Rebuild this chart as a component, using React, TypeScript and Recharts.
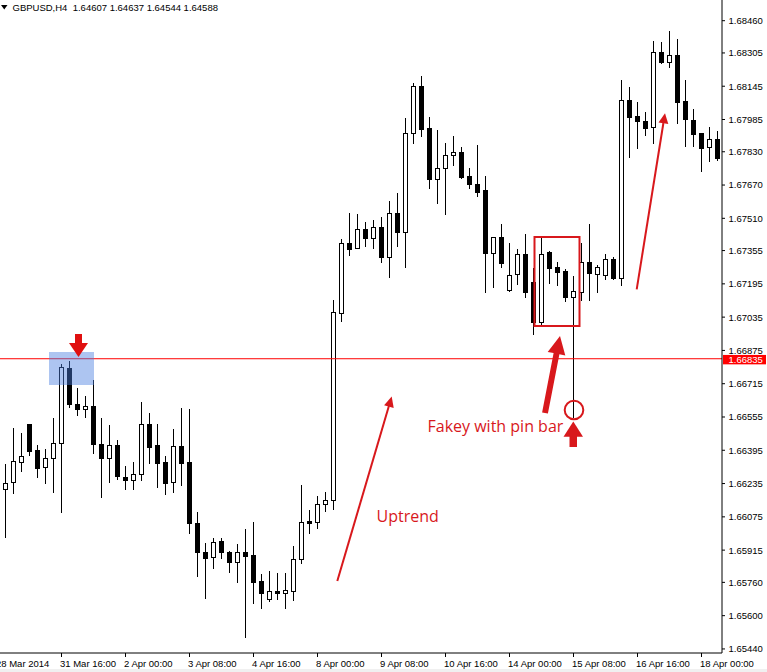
import React from "react";
import { ComposedChart, XAxis, YAxis, Bar, ReferenceLine } from "recharts";

// ---- data (GBPUSD H4) ----
const opens = [
  1.66207, 1.66241, 1.66337, 1.66521, 1.66396, 1.66313, 1.66357, 1.66429, 1.66789, 1.66616,
  1.66592, 1.66608, 1.66424, 1.66357, 1.66419, 1.66267, 1.66251, 1.66280, 1.66520, 1.66419,
  1.66337, 1.66244, 1.66416, 1.66337, 1.66044, 1.65908, 1.65881, 1.65958, 1.65908, 1.65857,
  1.65908, 1.65892, 1.65767, 1.65679, 1.65719, 1.65708, 1.65720, 1.65871, 1.66055, 1.66049,
  1.66135, 1.66156, 1.67054, 1.67391, 1.67366, 1.67457, 1.67414, 1.67467, 1.67326, 1.67534,
  1.67446, 1.67919, 1.68146, 1.67943, 1.67698, 1.67751, 1.67813, 1.67827, 1.67712, 1.67674,
  1.67646, 1.67342, 1.67419, 1.67166, 1.67241, 1.67339, 1.67205, 1.67013, 1.67347, 1.67275,
  1.67257, 1.67130, 1.67157, 1.67302, 1.67241, 1.67238, 1.67313, 1.67222, 1.68079, 1.68002,
  1.67978, 1.67951, 1.68308, 1.68263, 1.68295, 1.68074, 1.67983, 1.67919, 1.67851, 1.67891,
];
const highs = [
  1.66329, 1.66501, 1.66477, 1.66521, 1.66420, 1.66401, 1.66549, 1.66810, 1.66826, 1.66693,
  1.66656, 1.66733, 1.66549, 1.66517, 1.66444, 1.66319, 1.66337, 1.66629, 1.66576, 1.66521,
  1.66368, 1.66496, 1.66597, 1.66593, 1.66097, 1.65948, 1.65972, 1.65972, 1.65911, 1.65943,
  1.66015, 1.66049, 1.65799, 1.65813, 1.65805, 1.65805, 1.65935, 1.66228, 1.66108, 1.66177,
  1.66193, 1.67117, 1.67411, 1.67536, 1.67531, 1.67491, 1.67502, 1.67518, 1.67593, 1.67630,
  1.67991, 1.68159, 1.68194, 1.67996, 1.67935, 1.67871, 1.67906, 1.67854, 1.67751, 1.67862,
  1.67713, 1.67422, 1.67483, 1.67393, 1.67363, 1.67435, 1.67270, 1.67414, 1.67354, 1.67302,
  1.67265, 1.67233, 1.67390, 1.67483, 1.67286, 1.67337, 1.67326, 1.68175, 1.68140, 1.68071,
  1.68020, 1.68362, 1.68358, 1.68411, 1.68372, 1.68175, 1.68034, 1.67922, 1.67948, 1.67930,
];
const lows = [
  1.65978, 1.66188, 1.66297, 1.66372, 1.66265, 1.66239, 1.66196, 1.66100, 1.66602, 1.66565,
  1.66554, 1.66383, 1.66169, 1.66244, 1.66256, 1.66207, 1.66210, 1.66252, 1.66332, 1.66220,
  1.66185, 1.66193, 1.66228, 1.65996, 1.65792, 1.65684, 1.65831, 1.65876, 1.65809, 1.65763,
  1.65499, 1.65659, 1.65635, 1.65672, 1.65679, 1.65635, 1.65675, 1.65855, 1.65999, 1.66020,
  1.66105, 1.66111, 1.67018, 1.67335, 1.67366, 1.67378, 1.67369, 1.67302, 1.67229, 1.67378,
  1.67278, 1.67874, 1.67906, 1.67657, 1.67585, 1.67529, 1.67766, 1.67702, 1.67654, 1.67619,
  1.67157, 1.67181, 1.67275, 1.67162, 1.67194, 1.67133, 1.66953, 1.67002, 1.67201, 1.67190,
  1.67113, 1.66555, 1.67117, 1.67117, 1.67157, 1.67217, 1.67217, 1.67190, 1.67806, 1.67850,
  1.67911, 1.67874, 1.68255, 1.68239, 1.67970, 1.67858, 1.67858, 1.67739, 1.67787, 1.67790,
];
const closes = [
  1.66236, 1.66342, 1.66366, 1.66393, 1.66311, 1.66357, 1.66429, 1.66794, 1.66616, 1.66592,
  1.66606, 1.66424, 1.66357, 1.66419, 1.66273, 1.66251, 1.66280, 1.66520, 1.66412, 1.66335,
  1.66239, 1.66416, 1.66335, 1.66044, 1.65908, 1.65876, 1.65956, 1.65908, 1.65857, 1.65908,
  1.65888, 1.65763, 1.65708, 1.65719, 1.65708, 1.65723, 1.65872, 1.66049, 1.66047, 1.66135,
  1.66155, 1.67058, 1.67391, 1.67364, 1.67457, 1.67414, 1.67467, 1.67326, 1.67534, 1.67443,
  1.67919, 1.68146, 1.67941, 1.67698, 1.67751, 1.67813, 1.67827, 1.67707, 1.67674, 1.67638,
  1.67342, 1.67419, 1.67294, 1.67238, 1.67339, 1.67157, 1.67013, 1.67339, 1.67270, 1.67253,
  1.67130, 1.67161, 1.67302, 1.67246, 1.67275, 1.67313, 1.67222, 1.68079, 1.67999, 1.67979,
  1.67946, 1.68308, 1.68263, 1.68295, 1.68071, 1.67986, 1.67914, 1.67850, 1.67890, 1.67801,
];

const xTickIndex = [-1, 7, 15, 23, 31, 39, 47, 55, 63, 71, 79, 87];
const xTickLabels = [
  "28 Mar 2014", "31 Mar 16:00", "2 Apr 00:00", "3 Apr 08:00", "4 Apr 16:00", "8 Apr 00:00",
  "9 Apr 08:00", "10 Apr 16:00", "14 Apr 00:00", "15 Apr 08:00", "16 Apr 16:00", "18 Apr 00:00",
];
const yTicks = [
  1.6846, 1.68305, 1.68145, 1.67985, 1.6783, 1.6767, 1.6751, 1.67355, 1.67195, 1.67035,
  1.66875, 1.66715, 1.66555, 1.66395, 1.66235, 1.66075, 1.65915, 1.6576, 1.656, 1.6544,
];
const levelPrice = 1.66835;
const headerText = "GBPUSD,H4\u00a0 1.64607 1.64637 1.64544 1.64588";

const rows = opens.map((o, i) => ({
  i,
  o,
  h: highs[i],
  l: lows[i],
  c: closes[i],
  range: [lows[i], highs[i]],
}));

const AXIS_FONT = '"Liberation Sans", Arial, sans-serif';
const RED = "#d8181c";

const Candle = (props: any) => {
  const { x, y, width, height, payload } = props;
  if (x == null || y == null || !payload) return null;
  const top = Math.min(y, y + height);
  const bot = Math.max(y, y + height);
  const { o, h, l, c } = payload;
  const span = h - l || 1e-9;
  const py = (p: number) => top + ((h - p) / span) * (bot - top);
  const cx = Math.floor(x + width / 2) + 0.5;
  const bull = c >= o;
  let bt = Math.round(Math.min(py(o), py(c))) + 0.5;
  let bb = Math.round(Math.max(py(o), py(c))) + 0.5;
  if (bb - bt < 1) bb = bt + 1;
  return (
    <g shapeRendering="crispEdges">
      <line x1={cx} x2={cx} y1={Math.round(top)} y2={Math.round(bot) + 1} stroke="#000" strokeWidth={1} />
      <rect x={cx - 2} y={bt} width={4} height={bb - bt} fill={bull ? "#fff" : "#000"} stroke="#000" strokeWidth={1} />
    </g>
  );
};

const XTick = (props: any) => {
  const { x, payload } = props;
  const idx = xTickIndex.indexOf(payload.value);
  const label = idx >= 0 ? xTickLabels[idx] : "";
  return (
    <text x={x - 1.5} y={666.5} textAnchor="start" fontFamily={AXIS_FONT} fontSize={9.5} fill="#000">
      {label}
    </text>
  );
};

const YTick = (props: any) => {
  const { y, payload } = props;
  return (
    <text x={731.5} y={y} dy={3.4} textAnchor="start" fontFamily={AXIS_FONT} fontSize={9.5} fill="#000">
      {payload.value.toFixed(5)}
    </text>
  );
};

const PriceTag = (props: any) => {
  const vb = props.viewBox || {};
  const x0 = (vb.x || 0) + (vb.width || 0) + 1;
  const y0 = vb.y || 0;
  return (
    <g>
      <rect x={x0} y={y0 - 3.8} width={43} height={9.4} fill="#ff0000" />
      <text x={x0 + 5.5} y={y0} dy={4.2} fontFamily={AXIS_FONT} fontSize={9.5} fill="#fff">
        {levelPrice.toFixed(5)}
      </text>
    </g>
  );
};

const Annotations = () => (
  <svg
    width={767}
    height={672}
    style={{ position: "absolute", left: 0, top: 0, pointerEvents: "none" }}
  >
    {/* header */}
    <polygon points="1,5 7.5,5 4.25,9.5" fill="#000" />
    <text x={12.5} y={11} fontFamily={AXIS_FONT} fontSize={9.5} fill="#000" style={{ whiteSpace: "pre" }}>
      {headerText}
    </text>
    {/* blue highlighted zone */}
    <rect x={49} y={352} width={45} height={33} fill="#4a7fe0" fillOpacity={0.45} />
    {/* down arrow at the zone */}
    <rect x={75} y={334} width={7} height={10} fill="#e01010" />
    <polygon points="69,343 88,343 78.5,357" fill="#e01010" />
    {/* uptrend arrow */}
    <line x1={337.3} y1={581} x2={388.9} y2={406} stroke={RED} strokeWidth={2} />
    <polygon points="391.7,396.5 393.7,408 384.1,405.2" fill={RED} />
    <text x={376.5} y={521.7} fontFamily='"Open Sans", sans-serif' fontSize={16} fill={RED}>
      Uptrend
    </text>
    {/* fakey box */}
    <rect x={534.5} y={237} width={45} height={89} fill="none" stroke={RED} strokeWidth={2} />
    {/* pin bar circle */}
    <circle cx={574} cy={410} r={9.3} fill="none" stroke={RED} strokeWidth={2} />
    {/* pin bar up arrow */}
    <polygon points="573.3,421.5 563.5,436.8 583,436.8" fill={RED} />
    <rect x={569.5} y={436} width={7.5} height={11} fill={RED} />
    {/* big arrow to fakey */}
    <polygon
      points="547.9,413.6 542.1,412.4 553.6,353.1 547.7,352.0 560,336 565.3,355.4 559.4,354.3"
      fill={RED}
    />
    <text x={427.5} y={431.5} fontFamily='"Open Sans", sans-serif' fontSize={16} fill={RED}>
      Fakey with pin bar
    </text>
    {/* upper right arrow */}
    <line x1={636.7} y1={289.3} x2={663.4} y2={123} stroke={RED} strokeWidth={2} />
    <polygon points="665,113.3 668.3,124 658.5,122.4" fill={RED} />
  </svg>
);

export default function App() {
  return (
    <div
      style={{
        position: "absolute",
        left: 0,
        top: 0,
        width: 767,
        height: 672,
        overflow: "hidden",
        background: "#fff",
      }}
    >
      <div style={{ position: "absolute", left: -3, top: 0 }}>
        <ComposedChart width={770} height={672} data={rows} margin={{ top: 0, right: 0, bottom: 0, left: 0 }}>
          <XAxis
            dataKey="i"
            type="number"
            domain={[-1.0625, 89.5625]}
            allowDataOverflow
            ticks={xTickIndex}
            interval={0}
            height={19}
            tickSize={4}
            axisLine={{ stroke: "#000" }}
            tickLine={{ stroke: "#000" }}
            tick={<XTick />}
          />
          <YAxis
            orientation="right"
            type="number"
            domain={[1.654205, 1.685595]}
            allowDataOverflow
            ticks={yTicks}
            interval={0}
            width={45}
            tickSize={3}
            axisLine={{ stroke: "#000" }}
            tickLine={{ stroke: "#000" }}
            tick={<YTick />}
          />
          <Bar dataKey="range" barSize={5} isAnimationActive={false} shape={<Candle />} />
          <ReferenceLine y={levelPrice} stroke="#ff0000" strokeWidth={1} label={<PriceTag />} />
        </ComposedChart>
      </div>
      <div style={{ position: "absolute", left: 0, top: 669, width: 767, height: 3, background: "#f0f0f0" }} />
      <Annotations />
    </div>
  );
}
